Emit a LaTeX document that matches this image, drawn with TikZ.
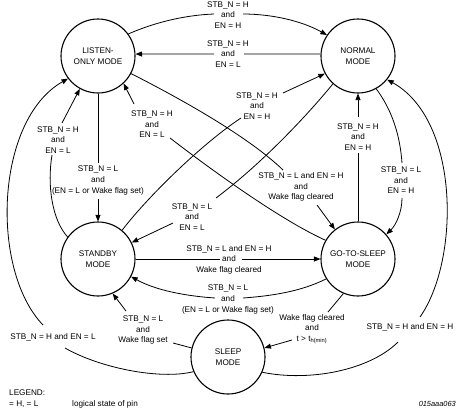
\documentclass[tikz,border=0pt]{standalone}
\usepackage{fontspec}
\setmainfont{Liberation Sans}
\usetikzlibrary{arrows.meta}
\begin{document}
\begin{tikzpicture}[x=1pt,y=-1pt,
  font=\fontsize{8.2}{10.6}\selectfont,
  state/.style={circle,draw,line width=1.1pt,minimum size=74pt,inner sep=0pt,align=center},
  lab/.style={align=center,inner sep=0pt},
  conn/.style={line width=0.8pt},
  arr/.style={conn,-{Triangle[length=6.5pt,width=5pt]}},
  leg/.style={anchor=west,inner sep=0pt}]
\useasboundingbox (0,0) rectangle (465,418);
% states
\node[state] (L) at (98,56) {LISTEN-\\ONLY MODE};
\node[state] (N) at (358,56) {NORMAL\\MODE};
\node[state] (S) at (98,259) {STANDBY\\MODE};
\node[state] (G) at (358,259) {GO-TO-SLEEP\\MODE};
\node[state] (P) at (228,357) {SLEEP\\MODE};
% labels
\node[lab] (t1) at (228,15) {STB\_N = H\\and\\EN = H};
\node[lab] (t2) at (228,54) {STB\_N = H\\and\\EN = L};
\node[lab] (t3) at (301,187) {STB\_N = L and EN = H\\and\\Wake flag cleared};
\node[lab] (t4) at (152,124.5) {STB\_N = H\\and\\EN = L};
\node[lab] (t5) at (192,217) {STB\_N = L\\and\\EN = L};
\node[lab] (t6) at (257,106) {STB\_N = H\\and\\EN = H};
\node[lab] (t7) at (98,180.5) {STB\_N = L\\and\\(EN = L or Wake flag set)};
\node[lab] (t8) at (58,140) {STB\_N = H\\and\\EN = L};
\node[lab] (t9) at (53,337) {STB\_N = H and EN = L};
\node[lab] (t10) at (410,327) {STB\_N = H and EN = H};
\node[lab] (t11) at (358,137) {STB\_N = H\\and\\EN = H};
\node[lab] (t12) at (401,180.5) {STB\_N = L\\and\\EN = H};
\node[lab] (t13) at (229,259.5) {STB\_N = L and EN = H\\and\\Wake flag cleared};
\node[lab] (t14) at (228,299.5) {STB\_N = L\\and\\(EN = L or Wake flag set)};
\node[lab] (t15) at (143,330) {STB\_N = L\\and\\Wake flag set};
\node[lab] (t16) at (312,329) {Wake flag cleared\\and\\t > t\textsubscript{h(min)}};
% gap end points
\coordinate (a1) at (214,14); \coordinate (b1) at (243,14);
\coordinate (a2) at (244,54); \coordinate (b2) at (214,54);
\coordinate (a3) at (283,170); \coordinate (b3) at (317,205);
\coordinate (a4) at (170,138); \coordinate (b4) at (134,104);
\coordinate (a5) at (216,198); \coordinate (b5) at (173,223);
\coordinate (a6) at (241,118); \coordinate (b6) at (283,93);
\coordinate (a7) at (98,163); \coordinate (b7) at (98,199);
\coordinate (a8) at (52,155); \coordinate (b8) at (62,123);
\coordinate (a9) at (65,348); \coordinate (b9) at (43,325);
\coordinate (a10) at (398,342); \coordinate (b10) at (420,317);
\coordinate (a11) at (358,153); \coordinate (b11) at (358,117);
\coordinate (a12) at (402,163); \coordinate (b12) at (402,198);
\coordinate (a13) at (220,259); \coordinate (b13) at (242,259);
\coordinate (a14) at (243,298); \coordinate (b14) at (215,298);
\coordinate (a15) at (173,343); \coordinate (b15) at (126,311);
\coordinate (a16) at (328,312); \coordinate (b16) at (292,340);
% connectors
\draw[conn] (L.36) .. controls (158,21) and (188,15) .. (a1);
\draw[arr] (b1) .. controls (272,14) and (302,21) .. (N.146);
\draw[conn] (N.177) -- (a2);
\draw[arr] (b2) -- (L.3);
\draw[conn] (L.-28) .. controls (185,101) and (250,138) .. (a3);
\draw[arr] (b3) -- (G.128);
\draw[conn] (G.150) .. controls (285,222) and (222,178) .. (a4);
\draw[arr] (b4) -- (L.-47);
\draw[conn] (N.228) .. controls (305,118) and (260,165) .. (a5);
\draw[arr] (b5) -- (S.26);
\draw[conn] (S.50) .. controls (145,200) and (200,145) .. (a6);
\draw[arr] (b6) -- (N.208);
\draw[conn] (L.south) -- (a7);
\draw[arr] (b7) -- (S.north);
\draw[conn] (S.144) .. controls (52,220) and (47,185) .. (a8);
\draw[arr] (b8) -- (L.241);
\draw[conn] (P.203) .. controls (160,380) and (100,368) .. (a9);
\draw[arr] (b9) .. controls (-10,270) and (-5,120) .. (L.217);
\draw[conn] (P.-24) .. controls (310,382) and (370,370) .. (a10);
\draw[arr] (b10) .. controls (460,260) and (460,120) .. (N.-39);
\draw[conn] (G.north) -- (a11);
\draw[arr] (b11) -- (N.south);
\draw[conn] (N.-61) .. controls (392,110) and (400,135) .. (a12);
\draw[arr] (b12) .. controls (402,212) and (396,225) .. (G.41);
\draw[conn] (S.east) -- (a13);
\draw[arr] (b13) -- (G.west);
\draw[conn] (G.212) .. controls (300,292) and (270,296) .. (a14);
\draw[arr] (b14) .. controls (185,296) and (155,290) .. (S.-28);
\draw[conn] (P.166) -- (a15);
\draw[arr] (b15) -- (S.-67);
\draw[conn] (G.247) -- (a16);
\draw[arr] (b16) -- (P.14);
% legend
\node[leg] (lg1) at (9,393) {LEGEND:};
\node[leg] (lg2) at (9,404) {= H, = L};
\node[leg] (lg3) at (72,404) {logical state of pin};
\node[anchor=east,inner sep=0pt,font=\fontsize{7.4}{9}\selectfont\itshape] (id) at (456,404) {015aaa063};
\end{tikzpicture}
\end{document}
